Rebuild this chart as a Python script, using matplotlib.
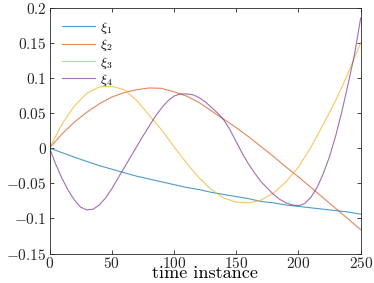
import matplotlib
matplotlib.use("Agg")
import matplotlib.pyplot as plt
import numpy as np

plt.rcParams['mathtext.fontset'] = 'cm'
plt.rcParams['font.family'] = 'serif'
plt.rcParams['font.serif'] = ['cmr10', 'DejaVu Serif']
plt.rcParams['axes.unicode_minus'] = False

# time steps (every 10) for xi_1..xi_3
t10 = np.arange(0, 251, 10)
xi1 = [0, -0.0065, -0.013, -0.019, -0.025, -0.030, -0.035, -0.040, -0.044, -0.048,
       -0.052, -0.056, -0.059, -0.063, -0.066, -0.069, -0.072, -0.076, -0.078, -0.081,
       -0.083, -0.085, -0.087, -0.089, -0.091, -0.094]
xi2 = [0, 0.020, 0.037, 0.051, 0.063, 0.0725, 0.079, 0.083, 0.0855, 0.085,
       0.080, 0.074, 0.065, 0.053, 0.041, 0.029, 0.016, 0.002, -0.012, -0.027,
       -0.041, -0.056, -0.071, -0.086, -0.101, -0.116]
xi3 = [0, 0.034, 0.060, 0.078, 0.087, 0.088, 0.083, 0.068, 0.047, 0.026,
       0.002, -0.021, -0.042, -0.059, -0.071, -0.077, -0.078, -0.074, -0.064, -0.048,
       -0.027, 0.001, 0.034, 0.068, 0.107, 0.150]

# xi_4 read every 5 steps
t5 = np.arange(0, 251, 5)
xi4 = [0, -0.023, -0.043, -0.060, -0.074, -0.084, -0.088, -0.087, -0.081, -0.071,
       -0.058, -0.043, -0.028, -0.013, 0.002, 0.017, 0.031, 0.045, 0.057, 0.067,
       0.074, 0.077, 0.077, 0.076, 0.072, 0.066, 0.058, 0.050, 0.040, 0.026,
       0.009, -0.008, -0.023, -0.036, -0.048, -0.057, -0.066, -0.073, -0.078, -0.081,
       -0.082, -0.079, -0.070, -0.056, -0.036, -0.012, 0.018, 0.053, 0.092, 0.133,
       0.185]

xticks = [0, 50, 100, 150, 200, 250]
yticks = [-0.15, -0.1, -0.05, 0, 0.05, 0.1, 0.15, 0.2]
colors = ['#0072BD', '#D95319', '#EDB120', '#7E2F8E']
labels = [r'$\xi_1$', r'$\xi_2$', r'$\xi_3$', r'$\xi_4$']

fig = plt.figure(figsize=(3.74, 2.83), dpi=100)
ax = fig.add_axes([49.5 / 374, (283 - 253.5) / 283, 311.2 / 374, 246 / 283])

series = [(t10, xi1), (t10, xi2), (t10, xi3), (t5, xi4)]
for (t, y), c, lab in zip(series, colors, labels):
    ax.plot(t, y, color=c, lw=0.8, alpha=0.7, label=lab)

ax.set_xlim(0, 250)
ax.set_ylim(-0.15, 0.2)
ax.set_xticks(xticks)
ax.set_xticklabels([f'${v:g}$' for v in xticks])
ax.set_yticks(yticks)
ax.set_yticklabels([f'${v:g}$' for v in yticks])
ax.tick_params(direction='in', length=3, width=0.6, colors='#262626',
               labelsize=11, top=True, right=True, pad=2)
for s in ax.spines.values():
    s.set_color('#262626')
    s.set_linewidth(0.6)

ax.set_xlabel('time instance', fontsize=13, labelpad=-4)

ax.legend(loc='upper left', frameon=False, fontsize=10, handlelength=2.4,
          handletextpad=0.3, labelspacing=0.1, borderaxespad=0.5)

fig.savefig('out.png', dpi=100)
